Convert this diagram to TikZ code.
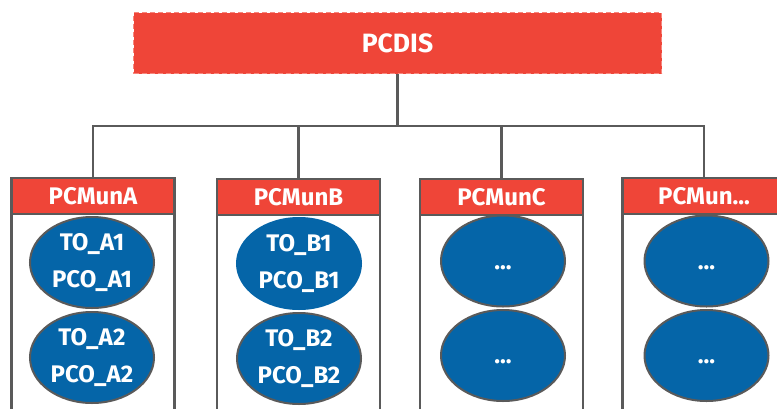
\documentclass[tikz,border=0pt]{standalone}
\usepackage{fontspec}
\setmainfont{Fira Sans}
\usetikzlibrary{shapes.geometric}
\definecolor{hred}{HTML}{EF4538}
\definecolor{dashred}{HTML}{F7877E}
\definecolor{eblue}{HTML}{0565A8}
\definecolor{lgray}{HTML}{5A5A5A}
\tikzset{
  conn/.style={draw=lgray, line width=2.4pt},
  topbox/.style={rectangle, fill=hred, draw=dashred, dash pattern=on 5pt off 3pt, line width=1.6pt,
    minimum width=528pt, minimum height=61pt, text=white, inner sep=0pt,
    font=\fontsize{26.5}{30}\selectfont\bfseries},
  container/.style={rectangle, draw=lgray, line width=2.4pt, minimum width=163pt, minimum height=250pt, inner sep=0pt},
  hdr/.style={rectangle, fill=hred, draw=lgray, line width=2.4pt, minimum width=163pt, minimum height=36pt,
    text=white, inner sep=0pt, font=\fontsize{24}{26}\selectfont\bfseries},
  oval/.style={ellipse, fill=eblue, draw=lgray, line width=2pt, minimum width=124pt, minimum height=91pt,
    inner sep=0pt, text=white, align=center, font=\fontsize{24}{37}\selectfont\bfseries},
}
\begin{document}
\begin{tikzpicture}[x=1pt,y=-1pt]
\useasboundingbox (0,0) rectangle (777,408);
% top
\node[topbox] (pcdis) at (397.5,43) {PCDIS};
\coordinate (bus) at (397.5,126);
% containers
\node[container, anchor=north] (cA) at (93,177) {};
\node[container, anchor=north] (cB) at (298.5,178) {};
\node[container, anchor=north] (cC) at (501.5,178) {};
\node[container, anchor=north] (cD) at (704,177) {};
% headers
\node[hdr, anchor=north] (hA) at (cA.north) {PCMunA};
\node[hdr, anchor=north] (hB) at (cB.north) {PCMunB};
\node[hdr, anchor=north] (hC) at (cC.north) {PCMunC};
\node[hdr, anchor=north] (hD) at (cD.north) {PCMun...};
% ellipses
\node[oval] (a1) at (92,262.5) {TO\_A1\\PCO\_A1};
\node[oval] (a2) at (92,357.5) {TO\_A2\\PCO\_A2};
\node[oval, draw=eblue] (b1) at (299,263.5) {TO\_B1\\PCO\_B1};
\node[oval] (b2) at (299,358.5) {TO\_B2\\PCO\_B2};
\node[oval] (c1) at (503,261) {\vphantom{T}...};
\node[oval] (c2) at (503,355.5) {\vphantom{T}...};
\node[oval] (d1) at (706.5,261) {\vphantom{T}...};
\node[oval] (d2) at (706.5,355.5) {\vphantom{T}...};
% connectors
\draw[conn] (pcdis.south) -- (bus);
\draw[conn] (cA.north) |- (bus);
\draw[conn] (cB.north) |- (bus);
\draw[conn] (cC.north) |- (bus);
\draw[conn] (cD.north) |- (bus);
\end{tikzpicture}
\end{document}
